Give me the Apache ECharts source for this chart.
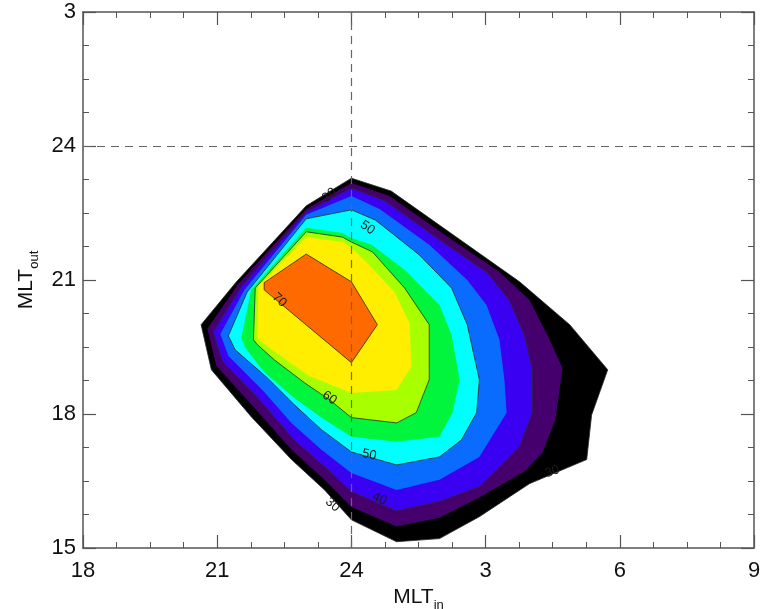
<!DOCTYPE html>
<html>
<head>
<meta charset="utf-8">
<script src="https://cdn.jsdelivr.net/npm/echarts@6/dist/echarts.min.js"></script>
<style>
    html, body { margin: 0; padding: 0; background: #fff; }
    #chart { width: 761px; height: 609px; }
</style>
</head>
<body>
<div id="chart"></div>
<script>
    // contour levels, outermost first
    var levels = [30, 35, 40, 45, 50, 55, 60, 65, 70];

    // filled contour outlines, [MLT_in, MLT_out] in hours (past midnight counted as 24+)
    var c30 = [[22.99, 22.66], [24.00, 23.28], [24.89, 22.99], [27.76, 20.96], [28.88, 20.00], [29.73, 18.99],
        [29.37, 17.98], [29.26, 16.98], [27.98, 16.44], [26.86, 15.70], [25.97, 15.21], [25.01, 15.14],
        [24.00, 15.63], [23.40, 16.30], [22.66, 16.98], [21.76, 17.94], [20.87, 18.99], [20.64, 20.00], [21.43, 20.96]];
    var c35 = [[22.99, 22.59], [24.00, 23.17], [24.85, 22.88], [26.19, 21.94], [27.31, 21.18], [27.98, 20.55],
        [28.38, 19.77], [28.72, 19.03], [28.56, 17.87], [28.27, 17.13], [27.87, 16.71], [26.86, 16.13],
        [25.97, 15.68], [25.01, 15.48], [24.00, 15.92], [23.40, 16.53], [22.66, 17.20], [21.83, 18.14],
        [20.98, 19.08], [20.78, 19.91], [21.47, 20.91]];
    var c40 = [[22.99, 22.52], [24.00, 23.06], [24.76, 22.77], [25.97, 21.90], [27.04, 21.16], [27.53, 20.55],
        [27.87, 19.77], [28.05, 18.99], [28.05, 18.03], [27.76, 17.27], [26.86, 16.37], [25.97, 16.04],
        [25.01, 15.83], [24.00, 16.26], [23.40, 16.82], [22.72, 17.42], [21.94, 18.32], [21.11, 19.19],
        [20.91, 19.84], [21.54, 20.85]];
    var c45 = [[22.99, 22.46], [24.00, 22.88], [24.63, 22.59], [25.74, 21.79], [26.59, 21.00], [27.02, 20.44],
        [27.31, 19.66], [27.42, 18.77], [27.47, 18.03], [26.86, 17.04], [25.97, 16.53], [25.01, 16.30],
        [24.00, 16.68], [23.33, 17.20], [22.66, 17.80], [22.01, 18.54], [21.25, 19.30], [21.07, 19.79], [21.61, 20.78]];
    var c50 = [[22.99, 22.37], [24.00, 22.57], [24.54, 22.34], [25.52, 21.56], [26.24, 20.82], [26.59, 20.00],
        [26.86, 18.77], [26.80, 18.03], [26.46, 17.42], [25.97, 17.04], [25.01, 16.86], [24.00, 17.15],
        [23.33, 17.65], [22.72, 18.21], [22.12, 18.81], [21.40, 19.44], [21.25, 19.75], [21.67, 20.73]];
    var c55 = [[22.99, 22.17], [23.80, 22.05], [24.00, 21.94], [24.45, 21.79], [25.19, 21.23], [25.97, 20.44],
        [26.24, 19.77], [26.42, 18.77], [26.26, 18.03], [25.97, 17.49], [25.01, 17.38], [24.00, 17.49],
        [23.40, 17.87], [22.72, 18.36], [22.05, 18.94], [21.63, 19.48], [21.54, 19.70], [21.76, 20.78]];
    var c60 = [[22.99, 22.08], [23.80, 21.96], [24.00, 21.85], [24.47, 21.63], [25.19, 20.82], [25.74, 20.00],
        [25.74, 18.77], [25.45, 18.03], [25.01, 17.80], [24.00, 17.92], [23.51, 18.32], [22.95, 18.70],
        [22.28, 19.21], [21.90, 19.55], [21.81, 19.66], [21.85, 20.82]];
    var c65 = [[22.99, 21.96], [23.80, 21.85], [24.00, 21.72], [24.34, 21.40], [24.96, 20.73], [25.30, 20.04],
        [25.34, 19.06], [25.01, 18.54], [24.00, 18.47], [23.06, 18.85], [22.39, 19.32], [21.99, 19.62],
        [21.90, 19.70], [21.92, 20.87]];
    var c70 = [[22.05, 20.94], [22.99, 21.58], [24.00, 20.96], [24.58, 20.00], [24.00, 19.15], [22.05, 20.78]];
    var contours = [c30, c35, c40, c45, c50, c55, c60, c65, c70];

    // contour labels: [MLT_in, MLT_out, text]
    var labelPoints = [[23.51, 22.90, '30'], [24.36, 22.17, '50'], [22.39, 20.55, '70'], [23.51, 18.36, '60'],
        [24.40, 17.09, '50'], [24.63, 16.10, '40'], [23.58, 15.97, '30'], [28.49, 16.71, '30']];
    var labelAngles = [0.7, -0.6, -0.75, -0.6, -0.2, -0.45, -0.7, 0.35];

    // reference lines at midnight
    var refX = 24;
    var refY = 24;

    var levelColors = ['#000000', '#45006e', '#3a00f2', '#0a6cff', '#00ffff', '#00f53c', '#a8ff00', '#ffee00', '#ff6a00'];
    var lineLevels = [30, 40, 50, 60, 70];

    var font = "'Liberation Sans', Arial, Helvetica, sans-serif";
    var frameColor = '#555';

    function hourLabel(v) {
        return String(v > 24 ? v - 24 : v);
    }

    function makeAxis(pos, showLabel, extra) {
        var ax = {
            type: 'value',
            position: pos,
            interval: 3,
            axisLine: { show: true, onZero: false, lineStyle: { color: frameColor, width: 1.5 } },
            axisTick: { show: true, inside: true, length: 13, lineStyle: { color: frameColor, width: 1.2 } },
            minorTick: { show: true, splitNumber: 4, length: 6, lineStyle: { color: frameColor, width: 1 } },
            splitLine: { show: false },
            minorSplitLine: { show: false },
            axisLabel: {
                show: showLabel,
                formatter: hourLabel,
                fontSize: 22,
                color: '#111',
                fontFamily: font,
                showMinLabel: true,
                showMaxLabel: true
            }
        };
        for (var k in extra) ax[k] = extra[k];
        return ax;
    }

    var nameRich = {
        a: { fontSize: 21, fontFamily: font, color: '#111', lineHeight: 24, verticalAlign: 'top' },
        b: { fontSize: 13, fontFamily: font, color: '#111', lineHeight: 25, verticalAlign: 'bottom' }
    };

    var xBottom = makeAxis('bottom', true, {
        min: 18, max: 33,
        name: '{a|MLT}{b|in}', nameLocation: 'middle', nameGap: 37,
        nameTextStyle: { rich: nameRich }
    });
    xBottom.axisLabel.margin = 12;
    var xTop = makeAxis('top', false, { min: 18, max: 33 });
    var yLeft = makeAxis('left', true, {
        min: 15, max: 27,
        name: '{a|MLT}{b|out}', nameLocation: 'middle', nameGap: 42, nameRotate: 90,
        nameTextStyle: { rich: nameRich }
    });
    yLeft.axisLabel.margin = 7;
    var yRight = makeAxis('right', false, { min: 15, max: 27 });

    function renderContour(params, api) {
        var i = params.dataIndex;
        var pts = contours[i].map(function (p) { return api.coord(p); });
        var stroked = lineLevels.indexOf(levels[i]) >= 0;
        return {
            type: 'polygon',
            shape: { points: pts },
            style: {
                fill: levelColors[i],
                stroke: stroked ? '#2a2a2a' : null,
                lineWidth: stroked ? 0.8 : 0
            }
        };
    }

    function renderLabel(params, api) {
        var i = params.dataIndex;
        var p = api.coord([labelPoints[i][0], labelPoints[i][1]]);
        return {
            type: 'text',
            x: p[0],
            y: p[1],
            rotation: labelAngles[i],
            style: {
                text: labelPoints[i][2],
                fill: '#1a1a1a',
                fontSize: 13,
                fontFamily: font,
                align: 'center',
                verticalAlign: 'middle'
            }
        };
    }

    var myChart = echarts.init(document.getElementById('chart'), null, { renderer: 'canvas' });
    var option = {
        backgroundColor: '#ffffff',
        animation: false,
        grid: { left: 83, top: 12, right: 7, bottom: 61, containLabel: false, outerBoundsMode: 'none' },
        xAxis: [xBottom, xTop],
        yAxis: [yLeft, yRight],
        series: [
            {
                type: 'custom',
                name: 'contours',
                xAxisIndex: 0, yAxisIndex: 0,
                z: 2,
                renderItem: renderContour,
                data: contours.map(function (c, i) { return [c[0][0], c[0][1], levels[i]]; })
            },
            {
                type: 'line',
                name: 'midnight',
                xAxisIndex: 0, yAxisIndex: 0,
                z: 5,
                data: [],
                markLine: {
                    silent: true,
                    symbol: 'none',
                    label: { show: false },
                    lineStyle: { type: [8, 6], color: '#666', width: 1.2 },
                    data: [{ xAxis: refX }, { yAxis: refY }]
                }
            },
            {
                type: 'custom',
                name: 'labels',
                xAxisIndex: 0, yAxisIndex: 0,
                z: 6,
                renderItem: renderLabel,
                data: labelPoints.map(function (p) { return [p[0], p[1]]; })
            }
        ]
    };
    myChart.setOption(option);
</script>
</body>
</html>
